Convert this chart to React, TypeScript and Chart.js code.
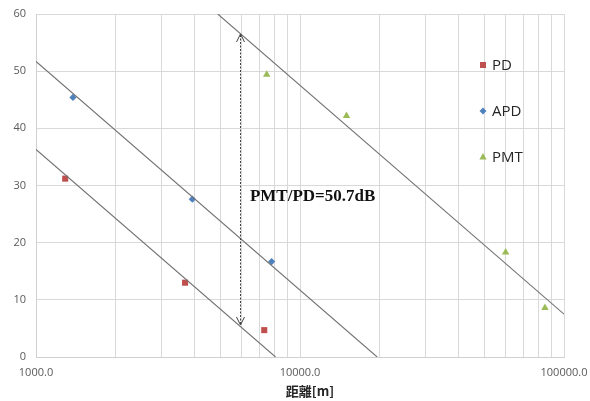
import React, { useEffect, useRef } from "react";
import { Chart, registerables } from "chart.js";

Chart.register(...registerables);

// ---- Data ----
const pdDistance = [1290, 3670, 7320];
const pdValue = [31.2, 13.0, 4.7];
const apdDistance = [1380, 3910, 7810];
const apdValue = [45.4, 27.6, 16.7];
const pmtDistance = [7480, 15000, 60100, 84700];
const pmtValue = [49.4, 42.2, 18.3, 8.6];

// trend lines (endpoints, -40 dB/decade)
const pdTrendX = [1000, 8080];
const pdTrendY = [36.3, 0];
const apdTrendX = [1000, 19600];
const apdTrendY = [51.7, 0];
const pmtTrendX = [4880, 100000];
const pmtTrendY = [60, 7.5];

// arrow & annotation
const arrowX = 5950;
const arrowTop = 56.5;
const arrowBottom = 5.6;
const noteX = 6460;
const noteY = 28.1;
const noteText = "PMT/PD=50.7dB";

const xTicks = [
  1000, 2000, 3000, 4000, 5000, 6000, 7000, 8000, 9000,
  10000, 20000, 30000, 40000, 50000, 60000, 70000, 80000, 90000, 100000,
];
const xLabeled = [1000, 10000, 100000];
const yMin = 0;
const yMax = 60;
const yStep = 10;
const xTitle = "距離[m]";
const seriesNames = ["PD", "APD", "PMT"];
const seriesColors = ["#C0504D", "#4F81BD", "#9BBB59"];

const pts = (xs: number[], ys: number[]) => xs.map((x, i) => ({ x, y: ys[i] }));

function drawMarker(ctx: CanvasRenderingContext2D, kind: number, x: number, y: number, color: string) {
  ctx.save();
  ctx.fillStyle = color;
  ctx.beginPath();
  if (kind === 0) {
    ctx.rect(x - 3, y - 3, 6, 6);
  } else if (kind === 1) {
    ctx.moveTo(x, y - 3.5);
    ctx.lineTo(x + 3.5, y);
    ctx.lineTo(x, y + 3.5);
    ctx.lineTo(x - 3.5, y);
    ctx.closePath();
  } else {
    ctx.moveTo(x, y - 4);
    ctx.lineTo(x + 3.6, y + 2.5);
    ctx.lineTo(x - 3.6, y + 2.5);
    ctx.closePath();
  }
  ctx.fill();
  ctx.restore();
}

const overlayPlugin = {
  id: "overlay",
  afterDatasetsDraw(chart: any) {
    const ctx: CanvasRenderingContext2D = chart.ctx;
    const xs = chart.scales.x;
    const ys = chart.scales.y;
    const area = chart.chartArea;

    // arrow
    const ax = Math.round(xs.getPixelForValue(arrowX)) + 0.5;
    const at = ys.getPixelForValue(arrowTop);
    const ab = ys.getPixelForValue(arrowBottom);
    ctx.save();
    ctx.strokeStyle = "#404040";
    ctx.lineWidth = 1;
    ctx.setLineDash([2, 1.5]);
    ctx.beginPath();
    ctx.moveTo(ax, at + 1);
    ctx.lineTo(ax, ab - 1);
    ctx.stroke();
    ctx.setLineDash([]);
    ctx.beginPath();
    ctx.moveTo(ax - 4, at + 8);
    ctx.lineTo(ax, at);
    ctx.lineTo(ax + 4, at + 8);
    ctx.moveTo(ax - 4, ab - 8);
    ctx.lineTo(ax, ab);
    ctx.lineTo(ax + 4, ab - 8);
    ctx.stroke();

    // annotation
    ctx.fillStyle = "#111111";
    ctx.font = "bold 17px 'Liberation Serif', 'DejaVu Serif', serif";
    ctx.textAlign = "left";
    ctx.textBaseline = "middle";
    ctx.fillText(noteText, xs.getPixelForValue(noteX), ys.getPixelForValue(noteY));

    // legend
    ctx.font = "15px 'Open Sans', 'Noto Sans', sans-serif";
    ctx.fillStyle = "#262626";
    const lx = area.right - 81;
    const ly = [area.top + 51, area.top + 97, area.top + 143];
    seriesNames.forEach((name, i) => {
      drawMarker(ctx, i, lx, ly[i], seriesColors[i]);
      ctx.fillText(name, lx + 9, ly[i] + 0.5);
    });

    // x title
    ctx.font = "bold 13px 'Noto Sans CJK JP', 'Noto Sans', sans-serif";
    ctx.fillStyle = "#262626";
    ctx.textAlign = "center";
    ctx.fillText(xTitle, (area.left + area.right) / 2 + 10, area.bottom + 34);
    ctx.restore();
  },
};

export default function App() {
  const ref = useRef<HTMLCanvasElement>(null);
  useEffect(() => {
    if (!ref.current) return;
    const trend = (xs: number[], ys: number[]) => ({
      type: "scatter" as const,
      data: pts(xs, ys),
      showLine: true,
      borderColor: "#737373",
      borderWidth: 1.1,
      pointRadius: 0,
      fill: false,
    });
    const chart = new Chart(ref.current, {
      type: "scatter",
      data: {
        datasets: [
          trend(pdTrendX, pdTrendY),
          trend(apdTrendX, apdTrendY),
          trend(pmtTrendX, pmtTrendY),
          {
            label: seriesNames[0],
            data: pts(pdDistance, pdValue),
            pointStyle: "rect",
            pointRadius: 4.3,
            backgroundColor: seriesColors[0],
            borderColor: seriesColors[0],
            borderWidth: 0,
          },
          {
            label: seriesNames[1],
            data: pts(apdDistance, apdValue),
            pointStyle: "rectRot",
            pointRadius: 3.6,
            backgroundColor: seriesColors[1],
            borderColor: seriesColors[1],
            borderWidth: 0,
          },
          {
            label: seriesNames[2],
            data: pts(pmtDistance, pmtValue),
            pointStyle: "triangle",
            pointRadius: 4.3,
            backgroundColor: seriesColors[2],
            borderColor: seriesColors[2],
            borderWidth: 0,
          },
        ],
      },
      options: {
        animation: false,
        responsive: true,
        maintainAspectRatio: false,
        layout: { padding: { top: 14, right: 26, left: 0, bottom: 0 } },
        plugins: { legend: { display: false }, tooltip: { enabled: false }, title: { display: false } },
        scales: {
          x: {
            type: "logarithmic",
            min: 1000,
            max: 100000,
            afterBuildTicks: (axis: any) => {
              axis.ticks = xTicks.map((v) => ({ value: v }));
            },
            afterFit: (scale: any) => {
              scale.height = 44;
              scale.paddingRight = 0;
              scale.paddingLeft = 0;
            },
            grid: { color: "#d9d9d9", drawTicks: false },
            border: { display: true, color: "#d0d0d0" },
            ticks: {
              autoSkip: false,
              maxRotation: 0,
              padding: 9,
              color: "#595959",
              font: { family: "'Open Sans', 'Noto Sans', sans-serif", size: 11 },
              callback: (v: any) => (xLabeled.includes(Number(v)) ? Number(v).toFixed(1) : ""),
            },
          },
          y: {
            min: yMin,
            max: yMax,
            afterFit: (scale: any) => {
              scale.width = 36;
              scale.paddingTop = 0;
              scale.paddingBottom = 0;
            },
            grid: { color: "#d9d9d9", drawTicks: false },
            border: { display: true, color: "#d0d0d0" },
            ticks: {
              stepSize: yStep,
              padding: 10,
              color: "#595959",
              font: { family: "'Open Sans', 'Noto Sans', sans-serif", size: 11 },
            },
          },
        },
      },
      plugins: [overlayPlugin],
    } as any);
    return () => chart.destroy();
  }, []);
  return (
    <div style={{ position: "fixed", left: 0, top: 0, width: 590, height: 401, background: "#ffffff" }}>
      <canvas ref={ref} />
    </div>
  );
}
